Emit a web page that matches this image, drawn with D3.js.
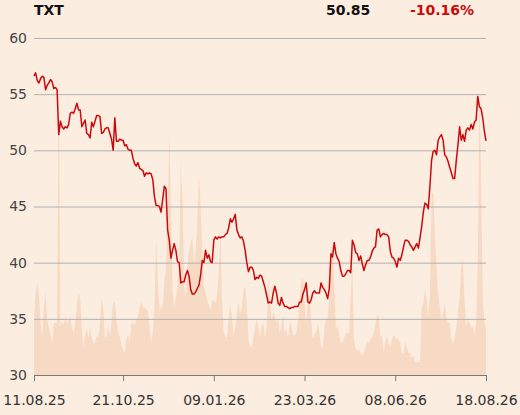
<!DOCTYPE html>
<html>
<head>
<meta charset="utf-8">
<script src="https://cdn.jsdelivr.net/npm/d3@7"></script>
<style>
  html, body { margin: 0; padding: 0; background: #fcede1; }
  svg { display: block; font-family: "DejaVu Sans", sans-serif; }
</style>
</head>
<body>
<svg id="chart" width="520" height="415"></svg>
<script>
const ticker = "TXT";
const lastPrice = "50.85";
const changePct = "-10.16%";

const yTicks = [30, 35, 40, 45, 50, 55, 60];
const xTickLabels = ["11.08.25", "21.10.25", "09.01.26", "23.03.26", "08.06.26", "18.08.26"];
const xTickIndex = [0, 54, 109, 164, 219, 274];

const price = [
  56.6, 56.9, 56.2, 56.0, 56.4, 56.6, 56.5, 55.4, 55.8, 56.0,
  56.3, 56.1, 55.5, 55.6, 55.4, 51.4, 52.6, 52.1, 51.9, 52.1,
  52.0, 52.3, 53.3, 53.4, 53.3, 53.7, 54.2, 53.6, 53.6, 52.1,
  52.4, 52.7, 51.5, 51.4, 51.1, 52.5, 52.1, 52.6, 53.1, 53.1,
  53.0, 51.5, 51.6, 51.9, 52.0, 52.0, 51.5, 51.0, 50.0, 52.9,
  50.8, 50.8, 51.0, 50.9, 50.9, 50.4, 50.5, 50.1, 50.0, 50.0,
  49.3, 48.8, 48.6, 48.9, 48.4, 48.3, 48.2, 47.7, 48.0, 47.9,
  48.0,
  47.9, 47.4, 45.9, 45.1, 45.1, 45.0, 44.5, 45.6, 46.8, 46.6,
  42.9, 42.0, 40.4, 41.1, 41.7, 41.1, 40.1, 40.0, 38.2, 38.3,
  38.3, 38.9, 39.3, 38.8, 37.6, 37.2, 37.2, 37.4, 37.7, 38.0,
  38.9, 40.2, 40.0, 41.1, 40.4, 40.7, 40.1, 40.0, 42.0, 42.3,
  42.1, 42.3, 42.2, 42.3, 42.3, 42.5, 42.6, 43.1, 43.9, 43.6,
  43.9, 44.3, 42.9, 42.5, 42.2, 42.3, 41.9, 41.1, 40.0, 39.2,
  39.6, 39.6, 39.3, 38.5, 38.7, 38.6, 38.9, 38.8, 38.3,
  37.8, 37.1, 36.4, 36.5, 36.4, 37.3, 37.9, 37.3, 36.4, 36.2,
  36.9, 36.4, 36.1, 36.1, 36.0, 35.9, 36.0, 36.0, 36.1, 36.1,
  36.1, 36.5, 36.5, 37.2, 37.6, 38.2, 36.5, 36.4, 36.7, 37.3,
  37.5, 37.3, 37.3, 37.3, 38.2, 37.8, 37.6, 37.3, 36.8, 37.7,
  40.8, 40.5, 41.8, 40.8, 40.4, 40.1, 39.3, 38.8, 38.8, 39.0,
  39.3, 39.3, 39.1, 42.0, 41.6, 40.9, 40.8, 40.2, 40.6, 39.9,
  39.3, 39.8, 40.2, 40.2, 40.5, 41.0, 41.3, 41.4, 42.9, 43.0,
  42.3, 42.5, 42.6, 42.5, 42.5, 42.3, 41.0, 40.5, 40.4, 40.1,
  39.6, 40.4, 40.2, 40.7, 41.4, 42.0, 42.0, 41.9, 41.6, 41.4,
  41.1, 41.4, 41.7, 41.3, 42.2, 43.2, 44.5, 45.3, 45.2, 44.8,
  46.8, 49.1, 49.9, 50.0, 49.6, 50.9, 51.2, 51.4, 50.9, 49.6,
  49.4, 49.0, 48.5, 48.0, 47.5, 47.5, 49.1, 50.5, 52.1, 50.9,
  51.4, 50.8, 51.8, 52.0, 51.8, 52.3, 51.9, 52.5, 52.7, 54.8,
  53.9, 53.7, 52.9, 51.7, 50.85
];

const volume = [
  55, 82, 93, 82, 52, 38, 68, 83, 55, 48,
  40, 32, 52, 52, 52, 307, 48, 53, 50, 59,
  50, 55, 58, 47, 42, 53, 68, 83, 77, 45,
  28, 40, 47, 37, 47, 37, 32, 32, 39, 38,
  52, 78, 67, 38, 38, 52, 38, 55, 73, 73,
  55, 43, 38, 30, 26, 22, 35, 40, 32, 52,
  52, 50, 55, 60, 67, 73, 68, 67, 67, 64,
  50,
  33, 42, 68, 138, 95, 65, 68, 68, 92, 107,
  168, 241, 168, 85, 68, 78, 90, 108, 215, 175,
  92, 78, 108, 125, 133, 137, 108, 125, 152, 203,
  168, 128, 88, 83, 75, 70, 65, 74, 75, 72,
  82, 102, 145, 77, 42, 38, 38, 58, 70, 58,
  38, 48, 62, 73, 62, 68, 85, 88, 72, 35,
  28, 28, 37, 47, 55, 48, 38, 48, 53,
  38, 48, 100, 75, 55, 63, 58, 52, 57, 42,
  50, 60, 42, 45, 37, 52, 50, 40, 40, 42,
  55, 72, 92, 98, 72, 50, 78, 82, 55, 37,
  40, 43, 51, 43, 28, 28, 45, 57, 57, 78,
  122, 132, 92, 47, 48, 42, 32, 33, 37, 42,
  42, 42, 80, 110, 35, 27, 24, 26, 22, 19,
  23, 28, 34, 32, 36, 38, 42, 52, 60, 58,
  38, 40, 23, 33, 39, 32, 28, 36, 40, 37,
  36, 35, 32, 22, 22, 33, 28, 22, 22, 17,
  20, 13, 13, 13, 13, 67, 72, 85, 77, 58,
  82, 182, 182, 142, 108, 82, 68, 55, 62, 73,
  57, 52, 52, 35, 32, 36, 47, 62, 80, 108,
  115, 75, 50, 55, 52, 48, 48, 40, 52, 110,
  282, 200, 80, 52, 48
];

const W = 520, H = 415;
const m = { top: 38, right: 34, bottom: 40, left: 34 };
const svg = d3.select("#chart");

const x = d3.scaleLinear().domain([0, price.length - 1]).range([m.left, W - m.right]);
const y = d3.scaleLinear().domain([30, 60]).range([H - m.bottom, m.top]);
const yVol = d3.scaleLinear().domain([0, 337]).range([H - m.bottom, m.top]);

// volume area
const area = d3.area()
  .x((d, i) => x(i))
  .y0(yVol(0))
  .y1(d => yVol(d));
svg.append("path")
  .datum(volume)
  .attr("d", area)
  .attr("fill", "#f7dac4");

// grid lines
const yAxis = d3.axisLeft(y)
  .tickValues(yTicks)
  .tickSize(-(W - m.left - m.right))
  .tickPadding(7)
  .tickFormat(d3.format("d"));
const gy = svg.append("g")
  .attr("transform", `translate(${m.left},0)`)
  .call(yAxis);
gy.select(".domain").remove();
gy.selectAll(".tick line")
  .attr("stroke", "#b2b0ae")
  .attr("stroke-width", 1)
  .attr("display", d => d === 30 ? "none" : null);
gy.selectAll(".tick text")
  .attr("fill", "#444")
  .attr("font-size", 14)
  .attr("font-family", "DejaVu Sans, sans-serif");

// price line
const line = d3.line()
  .x((d, i) => x(i))
  .y(d => y(d));
svg.append("path")
  .datum(price)
  .attr("d", line)
  .attr("fill", "none")
  .attr("stroke", "#cc0a0a")
  .attr("stroke-width", 1.5)
  .attr("stroke-linejoin", "round");

// x axis
const xAxis = d3.axisBottom(x)
  .tickValues(xTickIndex)
  .tickSize(6)
  .tickSizeOuter(0)
  .tickPadding(14)
  .tickFormat((d, i) => xTickLabels[i]);
const gx = svg.append("g")
  .attr("transform", `translate(0,${H - m.bottom})`)
  .call(xAxis);
gx.select(".domain").attr("stroke", "#777").attr("stroke-width", 1);
gx.selectAll(".tick line").attr("stroke", "#777");
gx.selectAll(".tick text")
  .attr("fill", "#333")
  .attr("font-size", 14)
  .attr("font-family", "DejaVu Sans, sans-serif");

// header
svg.append("text")
  .attr("x", 34).attr("y", 15)
  .attr("font-size", 14).attr("font-weight", "bold")
  .attr("fill", "#111")
  .text(ticker);
svg.append("text")
  .attr("x", 326).attr("y", 15)
  .attr("font-size", 14).attr("font-weight", "bold")
  .attr("fill", "#111")
  .text(lastPrice);
svg.append("text")
  .attr("x", 410).attr("y", 15)
  .attr("font-size", 14).attr("font-weight", "bold")
  .attr("fill", "#cc0a0a")
  .text(changePct);
</script>
</body>
</html>
